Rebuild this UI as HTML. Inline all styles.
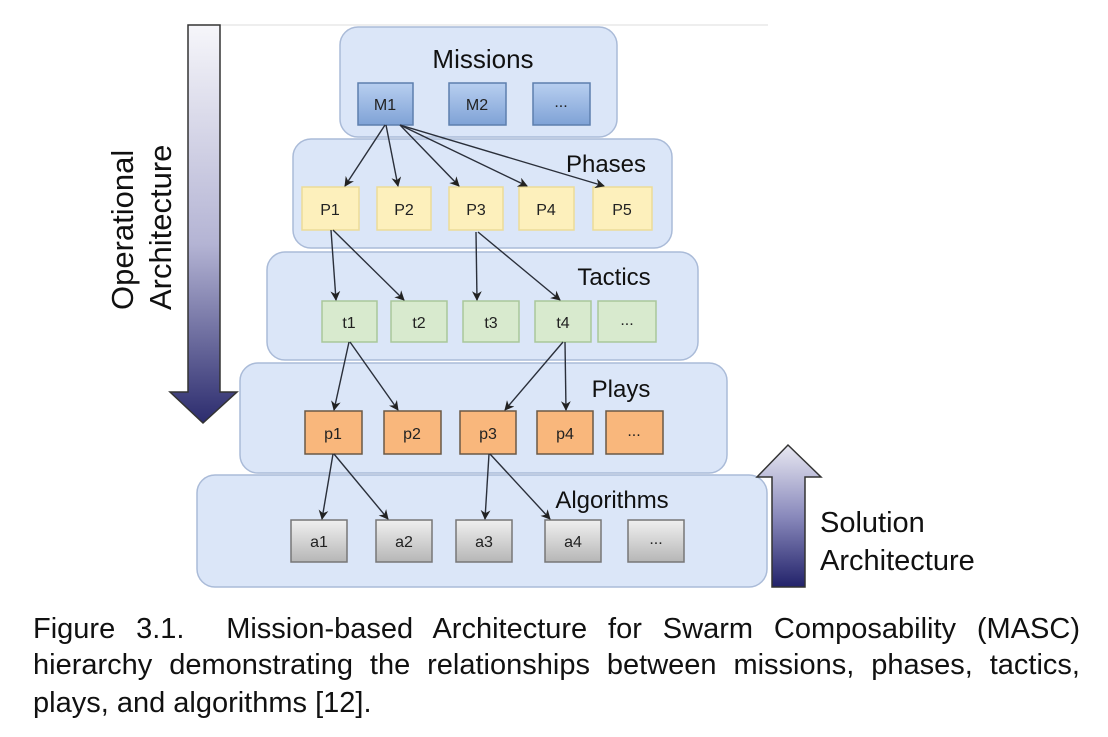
<!DOCTYPE html>
<html><head><meta charset="utf-8"><style>
html,body{margin:0;padding:0;background:#fff;}
body{width:1108px;height:737px;position:relative;overflow:hidden;font-family:"Liberation Sans",sans-serif;}
.cap{position:absolute;left:33px;width:1047px;font-family:"Liberation Sans",sans-serif;font-size:29px;color:#111;white-space:nowrap;line-height:32px;}
.j{text-align:justify;text-align-last:justify;white-space:normal;}
</style></head><body>
<svg width="1108" height="600" style="position:absolute;left:0;top:0" font-family="Liberation Sans, sans-serif">
<defs>
<linearGradient id="dn" x1="0" y1="0" x2="0" y2="1"><stop offset="0" stop-color="#f6f6fa"/><stop offset="0.55" stop-color="#b4b4d4"/><stop offset="1" stop-color="#2c2c6e"/></linearGradient>
<linearGradient id="up" x1="0" y1="0" x2="0" y2="1"><stop offset="0" stop-color="#e8e8f2"/><stop offset="0.5" stop-color="#8a8abc"/><stop offset="1" stop-color="#22226a"/></linearGradient>
<linearGradient id="mb" x1="0" y1="0" x2="0" y2="1"><stop offset="0" stop-color="#b8cff0"/><stop offset="1" stop-color="#7fa2d6"/></linearGradient>
<linearGradient id="ab" x1="0" y1="0" x2="0" y2="1"><stop offset="0" stop-color="#f0f0f0"/><stop offset="1" stop-color="#b6b6b6"/></linearGradient>
<marker id="ah" viewBox="0 0 10 10" refX="9" refY="5" markerWidth="7" markerHeight="7" orient="auto"><path d="M0,0 L10,5 L0,10 L3,5 z" fill="#222"/></marker>
</defs>
<line x1="220" y1="25" x2="768" y2="25" stroke="#ddd" stroke-width="1"/>
<path d="M188,25 L220,25 L220,392 L237,392 L203,423 L170,392 L188,392 Z" fill="url(#dn)" stroke="#333" stroke-width="1.5"/>
<text transform="translate(133,310) rotate(-90)" font-size="31" fill="#111">Operational</text>
<text transform="translate(171,310) rotate(-90)" font-size="31" fill="#111">Architecture</text>
<g fill="#dbe6f8" stroke="#aabbd8" stroke-width="1.5">
<rect x="340" y="27" width="277" height="110" rx="18"/>
<rect x="293" y="139" width="379" height="109" rx="18"/>
<rect x="267" y="252" width="431" height="108" rx="18"/>
<rect x="240" y="363" width="487" height="110" rx="18"/>
<rect x="197" y="475" width="570" height="112" rx="18"/>
</g>
<g font-size="24" fill="#111">
<text x="483" y="68" text-anchor="middle" font-size="26">Missions</text>
<text x="606" y="172" text-anchor="middle">Phases</text>
<text x="614" y="285" text-anchor="middle">Tactics</text>
<text x="621" y="397" text-anchor="middle">Plays</text>
<text x="612" y="508" text-anchor="middle">Algorithms</text>
</g>
<g stroke="#5d7fae" stroke-width="1.5" fill="url(#mb)">
<rect x="358" y="83" width="55" height="42"/><rect x="449" y="83" width="57" height="42"/><rect x="533" y="83" width="57" height="42"/>
</g>
<g stroke="#ecdc98" stroke-width="1.5" fill="#fdf0bc">
<rect x="302" y="187" width="57" height="43"/><rect x="377" y="187" width="54" height="43"/><rect x="449" y="187" width="54" height="43"/><rect x="519" y="187" width="55" height="43"/><rect x="593" y="187" width="59" height="43"/>
</g>
<g stroke="#a9c79a" stroke-width="1.5" fill="#d8eace">
<rect x="322" y="301" width="55" height="41"/><rect x="391" y="301" width="56" height="41"/><rect x="463" y="301" width="56" height="41"/><rect x="535" y="301" width="56" height="41"/><rect x="598" y="301" width="58" height="41"/>
</g>
<g stroke="#6a5846" stroke-width="1.5" fill="#f9b77c">
<rect x="305" y="411" width="57" height="43"/><rect x="384" y="411" width="57" height="43"/><rect x="460" y="411" width="56" height="43"/><rect x="537" y="411" width="56" height="43"/><rect x="606" y="411" width="57" height="43"/>
</g>
<g stroke="#777" stroke-width="1.5" fill="url(#ab)">
<rect x="291" y="520" width="56" height="42"/><rect x="376" y="520" width="56" height="42"/><rect x="456" y="520" width="56" height="42"/><rect x="545" y="520" width="56" height="42"/><rect x="628" y="520" width="56" height="42"/>
</g>
<g font-size="16" fill="#222" text-anchor="middle">
<text x="385" y="110">M1</text><text x="477" y="110">M2</text><text x="561" y="107">...</text>
<text x="330" y="215">P1</text><text x="404" y="215">P2</text><text x="476" y="215">P3</text><text x="546" y="215">P4</text><text x="622" y="215">P5</text>
<text x="349" y="328">t1</text><text x="419" y="328">t2</text><text x="491" y="328">t3</text><text x="563" y="328">t4</text><text x="627" y="325">...</text>
<text x="333" y="439">p1</text><text x="412" y="439">p2</text><text x="488" y="439">p3</text><text x="565" y="439">p4</text><text x="634" y="436">...</text>
<text x="319" y="547">a1</text><text x="404" y="547">a2</text><text x="484" y="547">a3</text><text x="573" y="547">a4</text><text x="656" y="544">...</text>
</g>
<g stroke="#2a2f3a" stroke-width="1.4" marker-end="url(#ah)" fill="none">
<line x1="385" y1="125" x2="345" y2="186"/>
<line x1="386" y1="125" x2="398" y2="186"/>
<line x1="400" y1="125" x2="459" y2="186"/>
<line x1="400" y1="125" x2="527" y2="186"/>
<line x1="400" y1="125" x2="604" y2="186"/>
<line x1="331" y1="230" x2="336" y2="300"/>
<line x1="333" y1="230" x2="404" y2="300"/>
<line x1="476" y1="232" x2="477" y2="300"/>
<line x1="478" y1="232" x2="560" y2="300"/>
<line x1="349" y1="342" x2="334" y2="410"/>
<line x1="350" y1="342" x2="398" y2="410"/>
<line x1="563" y1="342" x2="505" y2="410"/>
<line x1="565" y1="342" x2="566" y2="410"/>
<line x1="333" y1="454" x2="322" y2="519"/>
<line x1="334" y1="454" x2="388" y2="519"/>
<line x1="489" y1="454" x2="485" y2="519"/>
<line x1="490" y1="454" x2="550" y2="519"/>
</g>
<path d="M772,587 L805,587 L805,477 L821,477 L788,445 L757,477 L772,477 Z" fill="url(#up)" stroke="#333" stroke-width="1.5"/>
<text x="820" y="532" font-size="29" fill="#111">Solution</text>
<text x="820" y="570" font-size="29" fill="#111">Architecture</text>
</svg>
<div class="cap j" style="top:613px">Figure 3.1.&nbsp; Mission-based Architecture for Swarm Composability (MASC)</div>
<div class="cap j" style="top:649px">hierarchy demonstrating the relationships between missions, phases, tactics,</div>
<div class="cap" style="top:687px">plays, and algorithms [12].</div>
</body></html>
